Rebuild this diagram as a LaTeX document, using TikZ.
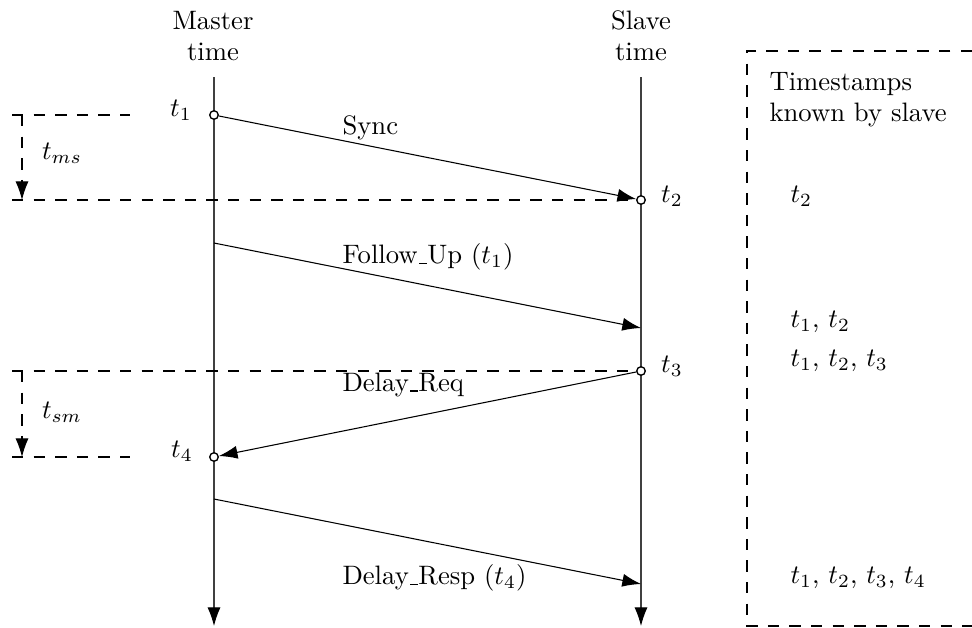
\documentclass[tikz,border=0pt]{standalone}
\usetikzlibrary{arrows.meta,backgrounds}
% short baseline rule used between words of message names
\newcommand\lowrule{\leavevmode\kern.06em\vbox{\hrule width.3em}}
\begin{document}
\begin{tikzpicture}[x=0.375pt,y=-0.375pt,
  font=\fontsize{10}{11.5}\selectfont,
  msg/.style={-{Latex[length=7pt,width=4.9pt]}},
  axis/.style={-{Latex[length=7pt,width=4.9pt,color=black]},draw=black!75},
  guide/.style={dash pattern=on 4.3pt off 3.8pt},
  event/.style={circle,draw,line width=0.5pt,fill=white,inner sep=0pt,minimum size=3.2pt},
  tlabel/.style={inner sep=0pt},
  msglabel/.style={anchor=west,inner sep=0pt},
  known/.style={anchor=west,inner sep=0pt}]
\useasboundingbox (0,0) rectangle (972,627);

% column headers
\node[align=center] (mhead) at (213,36) {Master\\time};
\node[align=center] (shead) at (641,36) {Slave\\time};

% time axes end points
\coordinate (mtop) at (214,77);
\coordinate (mbot) at (214,626);
\coordinate (stop) at (641,77);
\coordinate (sbot) at (641,626);

% timestamp events
\node[event] (t1) at (214,115) {};
\node[event] (t2) at (641,200) {};
\node[event] (t3) at (641,371) {};
\node[event] (t4) at (214,457) {};

% message end points without events
\coordinate (fu0) at (214,243);
\coordinate (fu1) at (641,328);
\coordinate (dr0) at (214,499);
\coordinate (dr1) at (641,584);

% delay guides on the left
\coordinate (gA)  at (12,115);
\coordinate (gAe) at (130,115);
\coordinate (gAc) at (22,115);
\coordinate (gB)  at (12,200);
\coordinate (gBc) at (22,200);
\coordinate (gC)  at (12,371);
\coordinate (gCc) at (22,371);
\coordinate (gD)  at (12,457);
\coordinate (gDe) at (130,457);
\coordinate (gDc) at (22,457);

\begin{scope}[on background layer]
  \draw[axis] (mtop) -- (mbot);
  \draw[axis] (stop) -- (sbot);
  \draw[guide] (gA) -- (gAe);
  \draw[guide] (gB) -- (t2);
  \draw[guide] (gC) -- (t3);
  \draw[guide] (gD) -- (gDe);
  \draw[guide,msg] (gAc) -- (gBc);
  \draw[guide,msg] (gCc) -- (gDc);
\end{scope}

\node[tlabel] (lms) at (62,153) {$t_{ms}$};
\node[tlabel] (lsm) at (62,412) {$t_{sm}$};

% messages
\draw[msg] (t1) -- (t2);
\draw[msg] (fu0) -- (fu1);
\draw[msg] (t3) -- (t4);
\draw[msg] (dr0) -- (dr1);

\node[msglabel] (lsync) at (342,128) {Sync};
\node[msglabel] (lfu)   at (342,257) {Follow\lowrule Up ($t_1$)};
\node[msglabel] (ldq)   at (342,385) {Delay\lowrule Req};
\node[msglabel] (ldr)   at (342,578) {Delay\lowrule Resp ($t_4$)};

% event labels
\node[tlabel] (lt1) at (181,110) {$t_1$};
\node[tlabel] (lt2) at (672,196) {$t_2$};
\node[tlabel] (lt3) at (672,366) {$t_3$};
\node[tlabel] (lt4) at (182,451) {$t_4$};

% slave's knowledge column
\draw[guide] (972,51) -- (747,51) -- (747,626) -- (972,626);
\node[known,align=left] (khead) at (769,100) {Timestamps\\known by slave};
\node[known] (k2)    at (790,196) {$t_2$};
\node[known] (k12)   at (790,322) {$t_1$, $t_2$};
\node[known] (k123)  at (790,361) {$t_1$, $t_2$, $t_3$};
\node[known] (k1234) at (790,578) {$t_1$, $t_2$, $t_3$, $t_4$};
\end{tikzpicture}
\end{document}
